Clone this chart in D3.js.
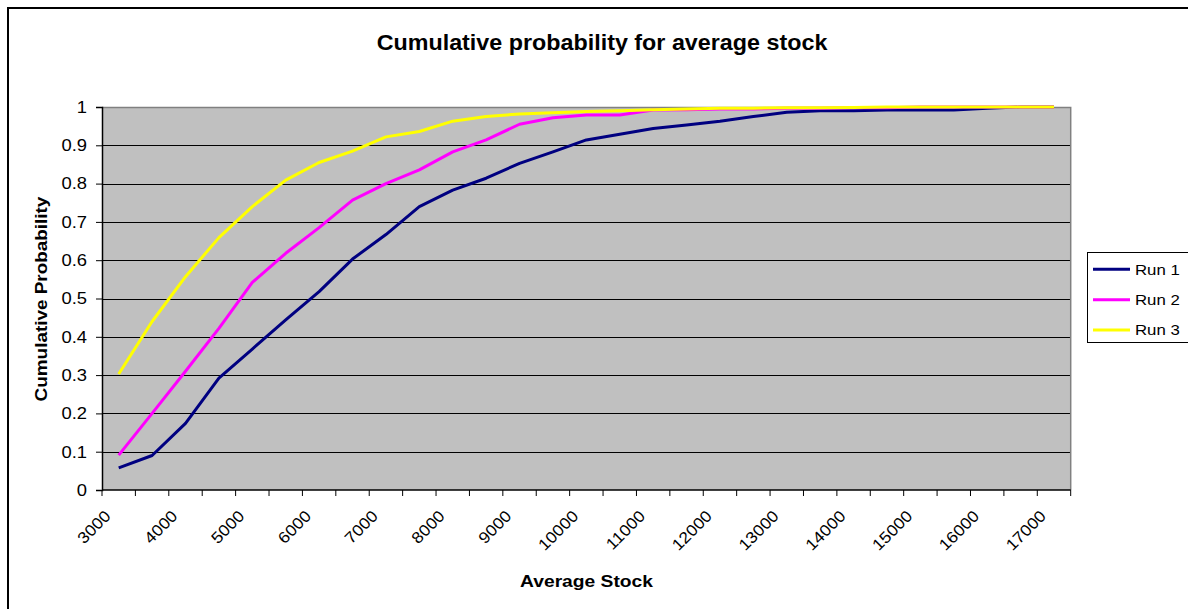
<!DOCTYPE html>
<html>
<head>
<meta charset="utf-8">
<script src="https://cdn.jsdelivr.net/npm/d3@7"></script>
<style>
  html, body { margin: 0; padding: 0; background: #ffffff; }
  svg { display: block; }
  text { font-family: "Liberation Sans", Arial, sans-serif; fill: #000; }
</style>
</head>
<body>
<svg id="chart" width="1188" height="609"></svg>
<script>
// Average stock levels (category axis)
const categories = [3000, 3500, 4000, 4500, 5000, 5500, 6000, 6500, 7000, 7500,
  8000, 8500, 9000, 9500, 10000, 10500, 11000, 11500, 12000, 12500,
  13000, 13500, 14000, 14500, 15000, 15500, 16000, 16500, 17000];

// Cumulative probability per simulation run
const run1 = [0.058, 0.090, 0.174, 0.292, 0.368, 0.444, 0.518, 0.603, 0.667, 0.740,
  0.783, 0.814, 0.853, 0.883, 0.914, 0.929, 0.944, 0.953, 0.963, 0.975,
  0.986, 0.990, 0.990, 0.992, 0.992, 0.992, 0.997, 1.000, 1.000];
const run2 = [0.091, 0.200, 0.310, 0.422, 0.542, 0.618, 0.685, 0.757, 0.800, 0.836,
  0.883, 0.914, 0.955, 0.972, 0.979, 0.979, 0.992, 0.993, 0.995, 0.995,
  0.997, 0.997, 0.998, 0.998, 1.000, 1.000, 1.000, 1.000, 1.000];
const run3 = [0.303, 0.440, 0.557, 0.659, 0.740, 0.809, 0.855, 0.885, 0.922, 0.936,
  0.963, 0.975, 0.982, 0.985, 0.988, 0.990, 0.993, 0.995, 0.997, 0.997,
  0.998, 0.998, 0.999, 1.000, 1.000, 1.000, 1.000, 1.000, 1.000];

const seriesNames = ["Run 1", "Run 2", "Run 3"];
const seriesColors = ["#000080", "#ff00ff", "#ffff00"];
const yTicks = [0, 0.1, 0.2, 0.3, 0.4, 0.5, 0.6, 0.7, 0.8, 0.9, 1];
const xTickLabels = [3000, 4000, 5000, 6000, 7000, 8000, 9000, 10000, 11000, 12000,
  13000, 14000, 15000, 16000, 17000];

const series = [run1, run2, run3].map((values, i) => ({
  name: seriesNames[i], color: seriesColors[i], values
}));

const svg = d3.select("#chart");
const plot = { left: 102, right: 1070.7, top: 107, bottom: 490 };

const x = d3.scaleBand().domain(categories).range([plot.left, plot.right]).padding(0);
const y = d3.scaleLinear().domain([0, 1]).range([plot.bottom, plot.top]);
const xc = d => x(d) + x.bandwidth() / 2;

// Chart area border
svg.append("rect")
  .attr("x", 8).attr("y", 8).attr("width", 1300).attr("height", 700)
  .attr("fill", "#fff").attr("stroke", "#000").attr("stroke-width", 2);

// Title
svg.append("text")
  .attr("transform", "translate(602,50) scale(1.06,1)")
  .attr("text-anchor", "middle")
  .attr("font-size", 22).attr("font-weight", "bold")
  .text("Cumulative probability for average stock");

// Plot background
svg.append("rect")
  .attr("x", plot.left).attr("y", plot.top)
  .attr("width", plot.right - plot.left).attr("height", plot.bottom - plot.top)
  .attr("fill", "#c0c0c0");

// Horizontal gridlines
svg.append("g")
  .selectAll("line")
  .data(yTicks.filter(t => t > 0 && t < 1))
  .join("line")
  .attr("x1", plot.left).attr("x2", plot.right)
  .attr("y1", d => Math.round(y(d)) + 0.5).attr("y2", d => Math.round(y(d)) + 0.5)
  .attr("stroke", "#000").attr("stroke-width", 1);

// Plot border (top and right)
svg.append("path")
  .attr("d", `M${plot.left},${plot.top + 0.5}H${plot.right}V${plot.bottom}`)
  .attr("fill", "none").attr("stroke", "#808080").attr("stroke-width", 1.5);

// Y axis
const yAxis = d3.axisLeft(y).tickValues(yTicks).tickSize(6).tickFormat("");
const gy = svg.append("g").attr("transform", `translate(${plot.left},0)`).call(yAxis);
gy.select(".domain").attr("stroke", "#000").attr("stroke-width", 1.5);
gy.selectAll(".tick line").attr("stroke", "#000");

svg.append("g")
  .selectAll("text")
  .data(yTicks)
  .join("text")
  .attr("transform", d => `translate(87,${y(d) + 5.8}) scale(1.15,1)`)
  .attr("text-anchor", "end")
  .attr("font-size", 16)
  .text(d => d3.format("~g")(d));

// X axis: ticks on category boundaries, labels on every second category
const boundaries = d3.range(categories.length + 1).map(i => plot.left + i * x.bandwidth());
svg.append("line")
  .attr("x1", plot.left).attr("x2", plot.right)
  .attr("y1", plot.bottom).attr("y2", plot.bottom)
  .attr("stroke", "#000").attr("stroke-width", 1.5);
svg.append("g")
  .selectAll("line")
  .data(boundaries)
  .join("line")
  .attr("x1", d => d).attr("x2", d => d)
  .attr("y1", plot.bottom).attr("y2", plot.bottom + 6)
  .attr("stroke", "#000");

svg.append("g")
  .selectAll("text")
  .data(xTickLabels)
  .join("text")
  .attr("transform", d => `translate(${xc(d) - 7},517) rotate(-45) scale(1.1,1)`)
  .attr("text-anchor", "end")
  .attr("font-size", 16)
  .text(d => d);

// Axis titles
svg.append("text")
  .attr("transform", "translate(586.5,587) scale(1.18,1)")
  .attr("text-anchor", "middle")
  .attr("font-size", 16.3).attr("font-weight", "bold")
  .text("Average Stock");

svg.append("text")
  .attr("transform", "translate(47,299) rotate(-90) scale(1.16,1)")
  .attr("text-anchor", "middle")
  .attr("font-size", 16.3).attr("font-weight", "bold")
  .text("Cumulative Probability");

// Series lines
const line = d3.line()
  .x((d, i) => xc(categories[i]))
  .y(d => y(d));

svg.append("g")
  .selectAll("path")
  .data(series)
  .join("path")
  .attr("d", s => line(s.values))
  .attr("fill", "none")
  .attr("stroke", s => s.color)
  .attr("stroke-width", 3)
  .attr("stroke-linejoin", "round");

// Legend
const legend = svg.append("g");
legend.append("rect")
  .attr("x", 1087.5).attr("y", 252.5).attr("width", 140).attr("height", 90)
  .attr("fill", "#fff").attr("stroke", "#000").attr("stroke-width", 1);
const entries = legend.selectAll("g.entry")
  .data(series)
  .join("g")
  .attr("class", "entry")
  .attr("transform", (d, i) => `translate(0,${269.3 + i * 30.4})`);
entries.append("line")
  .attr("x1", 1093).attr("x2", 1130).attr("y1", 0).attr("y2", 0)
  .attr("stroke", d => d.color).attr("stroke-width", 3);
entries.append("text")
  .attr("transform", "translate(1135,5.2) scale(1.12,1)")
  .attr("font-size", 15)
  .text(d => d.name);
</script>
</body>
</html>
